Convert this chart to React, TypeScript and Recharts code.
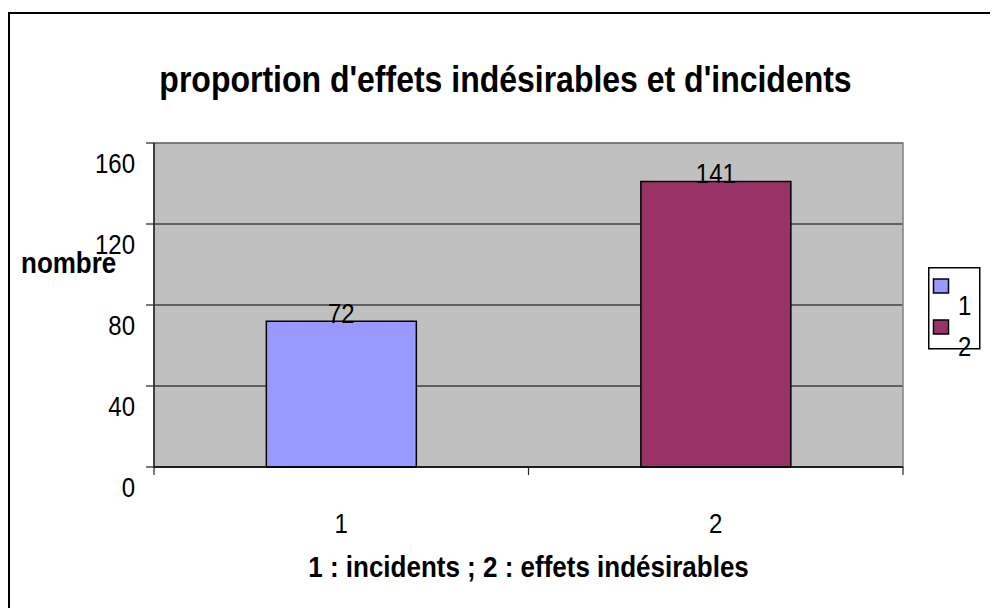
import {
  BarChart,
  Bar,
  XAxis,
  YAxis,
  CartesianGrid,
  ReferenceArea,
  Legend,
  LabelList,
  Cell,
} from 'recharts';

const CATEGORIES = ['1', '2'];
const COUNTS = [72, 141];
const BAR_COLORS = ['#9999FF', '#993366'];
const Y_TICKS = [0, 40, 80, 120, 160];
const TITLE = "proportion d'effets indésirables et d'incidents";
const Y_TITLE = 'nombre';
const X_TITLE = '1 : incidents ; 2 : effets indésirables';

const data = CATEGORIES.map((name, i) => ({ name, value: COUNTS[i] }));

const FONT = '"Liberation Sans", Arial, sans-serif';
const STRETCH = 1.13;

const W = 982;
const H = 600;

const StretchText = ({ x, y, anchor = 'middle', size, bold = false, children }: any) => (
  <text
    transform={`translate(${x},${y}) scale(1,${STRETCH})`}
    x={0}
    y={0}
    textAnchor={anchor}
    fontFamily={FONT}
    fontSize={size}
    fontWeight={bold ? 'bold' : 'normal'}
    fill="#000"
  >
    {children}
  </text>
);

const YTick = ({ x, y, payload }: any) => (
  <g>
    <line x1={x - 8} x2={x} y1={y} y2={y} stroke="#222" strokeWidth={1.2} />
    <StretchText x={x - 19} y={y + 30} anchor="end" size={24}>
      {payload.value}
    </StretchText>
  </g>
);

const XTick = ({ x, y, payload, index, visibleTicksCount }: any) => {
  const half = payload.offset ?? 187;
  const last = index === (visibleTicksCount ?? CATEGORIES.length) - 1;
  return (
    <g>
      <line x1={x - half} x2={x - half} y1={y} y2={y + 8} stroke="#222" strokeWidth={1.2} />
      {last && <line x1={x + half} x2={x + half} y1={y} y2={y + 8} stroke="#222" strokeWidth={1.2} />}
      <StretchText x={x} y={y + 66} size={24}>
        {payload.value}
      </StretchText>
    </g>
  );
};

const ValueLabel = ({ x, y, width, value }: any) => (
  <StretchText x={x + width / 2} y={y + 2} size={24}>
    {value}
  </StretchText>
);

const LegendBox = () => (
  <svg width={60} height={100} style={{ overflow: 'visible' }}>
    <rect x={0.75} y={0.75} width={51} height={81} fill="#fff" stroke="#000" strokeWidth={1.5} />
    {CATEGORIES.map((c, i) => (
      <g key={c}>
        <rect
          x={5.5}
          y={12 + i * 41}
          width={15}
          height={14}
          fill={BAR_COLORS[i]}
          stroke="#000"
          strokeWidth={1.5}
        />
        <StretchText x={30} y={48 + i * 41} anchor="start" size={24}>
          {c}
        </StretchText>
      </g>
    ))}
  </svg>
);

export default function App() {
  return (
    <div style={{ position: 'relative', width: 990, height: H, overflow: 'hidden', background: '#fff' }}>
      {/* outer frame: only left and top edges fall inside the picture */}
      <div
        style={{
          position: 'absolute',
          left: 0,
          top: 4,
          width: 1200,
          height: 900,
          border: '2px solid #000',
        }}
      />
      <div style={{ position: 'absolute', left: 0, top: 0 }}>
        <BarChart
          width={W}
          height={H}
          data={data}
          margin={{ top: 135, right: 87, bottom: 111, left: 0 }}
          barCategoryGap="30%"
        >
          <CartesianGrid vertical={false} stroke="#000" fill="#C0C0C0" fillOpacity={1} />
          <ReferenceArea y1={0} y2={160} fill="none" stroke="#808080" strokeWidth={1.5} />
          <XAxis
            dataKey="name"
            height={30}
            tickSize={0}
            tickMargin={0}
            tickLine={false}
            axisLine={{ stroke: '#000', strokeWidth: 1.5 }}
            tick={<XTick />}
            label={{
              content: ({ viewBox }: any) => (
                <StretchText x={viewBox.x + viewBox.width / 2} y={569} size={26} bold>
                  {X_TITLE}
                </StretchText>
              ),
            }}
          />
          <YAxis
            width={146}
            domain={[0, 160]}
            ticks={Y_TICKS}
            tickSize={0}
            tickMargin={0}
            tickLine={false}
            axisLine={{ stroke: '#222', strokeWidth: 1.5 }}
            tick={<YTick />}
            label={{
              content: () => (
                <StretchText x={13} y={265} anchor="start" size={26} bold>
                  {Y_TITLE}
                </StretchText>
              ),
            }}
          />
          <Legend
            layout="vertical"
            align="center"
            verticalAlign="middle"
            wrapperStyle={{ position: 'absolute', left: 920, top: 259, width: 60, height: 100 }}
            content={() => <LegendBox />}
          />
          <Bar dataKey="value" stroke="#000" strokeWidth={1.5} isAnimationActive={false}>
            {data.map((d, i) => (
              <Cell key={d.name} fill={BAR_COLORS[i]} />
            ))}
            <LabelList dataKey="value" content={<ValueLabel />} />
          </Bar>
        </BarChart>
      </div>
      <svg
        width={W}
        height={H}
        style={{ position: 'absolute', left: 0, top: 0, pointerEvents: 'none' }}
      >
        <StretchText x={497.5} y={84} size={32} bold>
          {TITLE}
        </StretchText>
      </svg>
    </div>
  );
}
